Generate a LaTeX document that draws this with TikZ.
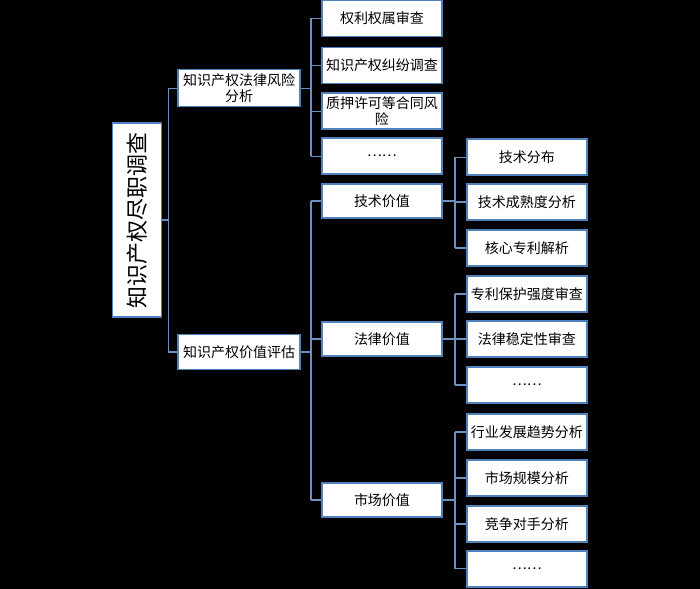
\documentclass[tikz,border=0pt]{standalone}
\usepackage{fontspec}
\setmainfont{Noto Sans CJK SC}
\definecolor{bordc}{HTML}{4F81BD}
\definecolor{linec}{HTML}{6B8FBF}
\definecolor{bgc}{HTML}{010101}
\begin{document}
\begin{tikzpicture}[x=1pt,y=-1pt,
 box/.style={draw=bordc,line width=1.3pt,fill=white,minimum width=120pt,minimum height=36pt,inner sep=1pt,align=center,font=\fontsize{14}{16}\selectfont,text width=118pt},
 conn/.style={draw=linec,line width=1.2pt}]
\path[fill=bgc,draw=bgc] (0,0) rectangle (700,588);
\useasboundingbox (0,0) rectangle (700,588);
\node[draw=bordc,line width=1.3pt,fill=white,minimum width=49pt,minimum height=194pt,inner sep=0pt] (root) at (137,220) {};
\node[rotate=90,font=\fontsize{22}{24}\selectfont] at (root.center) {知识产权尽职调查};
\node[box,minimum width=122pt,text width=120pt,minimum height=37pt] (a) at (239,88) {知识产权法律风险\\分析};
\node[box,minimum width=122pt,text width=120pt,minimum height=35pt] (b) at (239,352) {知识产权价值评估};
\node[box] (a1) at (382,18) {权利权属审查};
\node[box] (a2) at (382,65) {知识产权纠纷调查};
\node[box] (a3) at (382,111) {质押许可等合同风\\险};
\node[box] (a4) at (382,156) {……};
\node[box,minimum height=34pt] (b1) at (382,201) {技术价值};
\node[box,minimum height=34pt] (b2) at (382,339) {法律价值};
\node[box,minimum height=34pt] (b3) at (382,500) {市场价值};
\node[box] (c1) at (527,157) {技术分布};
\node[box] (c2) at (527,202) {技术成熟度分析};
\node[box] (c3) at (527,248) {核心专利解析};
\node[box] (d1) at (527,294) {专利保护强度审查};
\node[box] (d2) at (527,339) {法律稳定性审查};
\node[box] (d3) at (527,385) {……};
\node[box] (e1) at (527,432) {行业发展趋势分析};
\node[box] (e2) at (527,478) {市场规模分析};
\node[box] (e3) at (527,524) {竞争对手分析};
\node[box] (e4) at (527,569) {……};
\draw[conn] (root.east) -- (168,220) (168,88) -- (168,352) (168,88) -- (a.west) (168,352) -- (b.west);
\draw[conn] (a.east) -- (311,88) (311,18) -- (311,156);
\foreach \t in {a1,a2,a3,a4} \draw[conn] (311,0 |- \t.west) -- (\t.west);
\draw[conn] (b.east) -- (311,352) (311,201) -- (311,500);
\foreach \t in {b1,b2,b3} \draw[conn] (311,0 |- \t.west) -- (\t.west);
\draw[conn] (b1.east) -- (455,201) (455,157) -- (455,248);
\foreach \t in {c1,c2,c3} \draw[conn] (455,0 |- \t.west) -- (\t.west);
\draw[conn] (b2.east) -- (455,339) (455,294) -- (455,385);
\foreach \t in {d1,d2,d3} \draw[conn] (455,0 |- \t.west) -- (\t.west);
\draw[conn] (b3.east) -- (455,500) (455,432) -- (455,569);
\foreach \t in {e1,e2,e3,e4} \draw[conn] (455,0 |- \t.west) -- (\t.west);
\end{tikzpicture}
\end{document}
